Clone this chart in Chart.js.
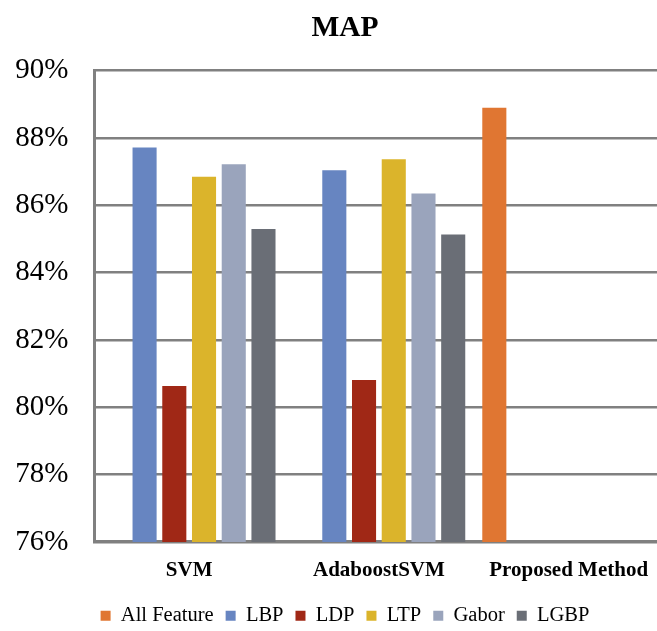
<!DOCTYPE html>
<html>
<head>
<meta charset="utf-8">
<script src="https://cdn.jsdelivr.net/npm/chart.js@4/dist/chart.umd.min.js"></script>
<style>
  html, body { margin: 0; padding: 0; background: #fff; overflow: hidden; }
  #wrap { width: 692px; height: 640px; }
</style>
</head>
<body>
<div id="wrap"><canvas id="c" width="692" height="640"></canvas></div>
<script>
// Classifiers on the x axis
const categories = ['SVM', 'AdaboostSVM', 'Proposed Method'];

// Mean average precision (%) per feature set
const allFeature = [null, null, 88.9];
const lbp   = [87.72, 87.04, null];
const ldp   = [80.63, 80.81, null];
const ltp   = [86.85, 87.37, null];
const gabor = [87.22, 86.35, null];
const lgbp  = [85.30, 85.13, null];

// Y axis ticks (percent)
const yTicks = [76, 78, 80, 82, 84, 86, 88, 90];

const serif = "'Liberation Serif', 'Times New Roman', serif";
const gridColor = '#808080';

const series = [
  { label: 'All Feature', data: allFeature, color: '#E07632' },
  { label: 'LBP',         data: lbp,        color: '#6785C1' },
  { label: 'LDP',         data: ldp,        color: '#A02816' },
  { label: 'LTP',         data: ltp,        color: '#DBB42B' },
  { label: 'Gabor',       data: gabor,      color: '#9AA4BC' },
  { label: 'LGBP',        data: lgbp,       color: '#6A6E76' }
];

new Chart(document.getElementById('c'), {
  type: 'bar',
  data: {
    labels: categories,
    datasets: series.map(s => ({
      label: s.label,
      data: s.data,
      backgroundColor: s.color,
      borderWidth: 0,
      categoryPercentage: 0.94,
      barPercentage: 0.81
    }))
  },
  options: {
    responsive: false,
    animation: false,
    devicePixelRatio: 1,
    layout: { padding: { left: 15, right: 17, top: 0, bottom: 4 } },
    plugins: {
      title: {
        display: true,
        text: 'MAP',
        color: '#000',
        font: { family: serif, size: 29.5, weight: 'bold' },
        padding: { top: 10.5, bottom: 24.8 }
      },
      legend: {
        position: 'bottom',
        labels: {
          color: '#000',
          font: { family: serif, size: 20.5 },
          boxWidth: 10,
          boxHeight: 10,
          padding: 12
        }
      },
      tooltip: { enabled: false }
    },
    scales: {
      x: {
        grid: { display: false, drawTicks: false },
        border: { display: true, color: gridColor, width: 3 },
        afterFit: axis => { axis.height = 51.6; },
        ticks: {
          color: '#000',
          font: { family: serif, size: 21, weight: 'bold' },
          padding: 16.5,
          maxRotation: 0
        }
      },
      y: {
        min: 76,
        max: 90,
        afterBuildTicks: axis => { axis.ticks = yTicks.map(v => ({ value: v })); },
        afterFit: axis => { axis.width = 79.3; },
        grid: { color: gridColor, lineWidth: 2.5, drawTicks: false },
        border: { display: true, color: gridColor, width: 3 },
        ticks: {
          color: '#000',
          font: { family: serif, size: 29 },
          padding: 26,
          callback: v => v + '%'
        }
      },
      // empty right-hand margin strip beside the plot
      margin: {
        type: 'linear',
        position: 'right',
        display: true,
        grid: { display: false, drawTicks: false },
        border: { display: false },
        ticks: { display: false },
        afterFit: axis => { axis.width = 11.5; }
      }
    }
  }
});
</script>
</body>
</html>
